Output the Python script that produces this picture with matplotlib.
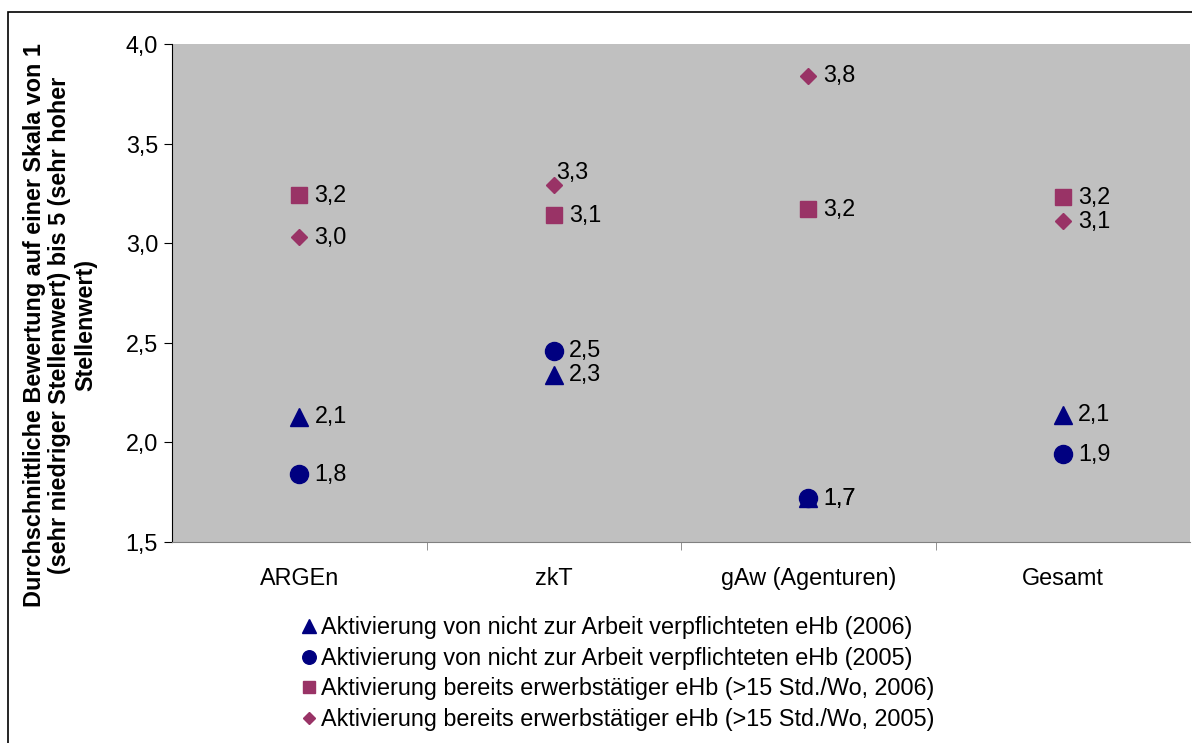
import matplotlib
matplotlib.use("Agg")
import matplotlib.pyplot as plt
from matplotlib.patches import Rectangle

plt.rcParams['font.family'] = ['Liberation Sans', 'DejaVu Sans']

categories = ["ARGEn", "zkT", "gAw (Agenturen)", "Gesamt"]
series_names = [
    "Aktivierung von nicht zur Arbeit verpflichteten eHb (2006)",
    "Aktivierung von nicht zur Arbeit verpflichteten eHb (2005)",
    "Aktivierung bereits erwerbstätiger eHb (>15 Std./Wo, 2006)",
    "Aktivierung bereits erwerbstätiger eHb (>15 Std./Wo, 2005)",
]
tri_2006 = [2.13, 2.34, 1.72, 2.14]
circ_2005 = [1.84, 2.46, 1.72, 1.94]
sq_2006 = [3.24, 3.14, 3.17, 3.23]
dia_2005 = [3.03, 3.29, 3.84, 3.11]
yticks = [1.5, 2.0, 2.5, 3.0, 3.5, 4.0]

series = [tri_2006, circ_2005, sq_2006, dia_2005]
markers = ['^', 'o', 's', 'D']
sizes = [13, 13, 12, 8.5]
colors = ['#000080', '#000080', '#993366', '#993366']

FS = 16.8
W, H = 1192, 743
fig = plt.figure(figsize=(W/100, H/100), dpi=100)
fig.patches.append(Rectangle((8/W, -0.2), 1.2, 1.2 - 12/H, transform=fig.transFigure,
                             fill=False, edgecolor='black', linewidth=1.2))

ax = fig.add_axes([172/W, 1 - 542/H, (1190-172)/W, (542-44)/H])
ax.set_facecolor('#C0C0C0')
x = list(range(len(categories)))

handles = []
for vals, m, s, c, name in zip(series, markers, sizes, colors, series_names):
    h, = ax.plot(x, vals, linestyle='none', marker=m, markersize=s, color=c,
                 markeredgecolor=c, label=name)
    handles.append(h)
    for xi, v in zip(x, vals):
        lab = f"{v:.1f}".replace('.', ',')
        dx, dy = 11, 0
        if m == 'D' and xi == 1:
            dx, dy = 2, 9
        ax.annotate(lab, (xi, v), xytext=(dx, dy), textcoords='offset points',
                    ha='left', va='center', fontsize=FS, color='black')

ax.set_xlim(-0.5, 3.5)
ax.set_ylim(1.5, 4.0)
ax.set_yticks(yticks)
ax.set_yticklabels([f"{t:.1f}".replace('.', ',') for t in yticks], fontsize=FS)
ax.set_xticks(x)
ax.set_xticklabels(categories, fontsize=FS)
ax.set_xticks([0.5, 1.5, 2.5], minor=True)
ax.tick_params(axis='x', which='major', length=0, pad=18)
ax.tick_params(axis='x', which='minor', length=6, color='#808080', direction='out')
ax.tick_params(axis='y', length=6, direction='out', pad=4)
for sp in ['top', 'right']:
    ax.spines[sp].set_visible(False)
ax.spines['left'].set_color('#000000')
ax.spines['bottom'].set_color('#808080')

fig.text(60/W, 1 - 325/H,
         "Durchschnittliche Bewertung auf einer Skala von 1\n(sehr niedriger Stellenwert) bis 5 (sehr hoher\nStellenwert)",
         rotation=90, ha='center', va='center', fontsize=FS, fontweight='bold',
         linespacing=1.15)

fig.legend(handles=handles, loc='upper left', bbox_to_anchor=(302/W, 1 - 616/H),
           frameon=False, fontsize=FS, markerscale=0.75, handlelength=0.6,
           handletextpad=0.2, labelspacing=0.33, borderpad=0, borderaxespad=0)

fig.savefig("out.png", dpi=100)
